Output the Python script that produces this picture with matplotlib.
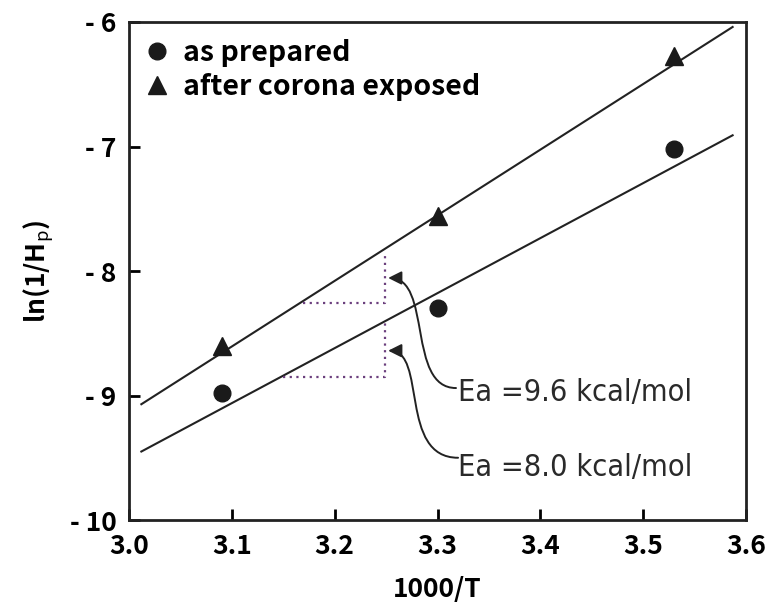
import numpy as np
import matplotlib
matplotlib.use('Agg')
import matplotlib.pyplot as plt
from matplotlib.path import Path
from matplotlib.patches import FancyArrowPatch
from matplotlib.lines import Line2D

# Data
temp_inv = [3.09, 3.30, 3.53]
prepared = [-8.98, -8.30, -7.02]
corona = [-8.60, -7.56, -6.27]

fit_x = [3.012, 3.587]
fit_corona = [-9.07, -6.04]
fit_prepared = [-9.45, -6.91]

# Dotted slope guides
step_corona_x = [3.169, 3.249, 3.249]
step_corona_y = [-8.26, -8.26, -7.85]
step_prep_x = [3.15, 3.249, 3.249]
step_prep_y = [-8.855, -8.855, -8.42]

x_ticks = [3.0, 3.1, 3.2, 3.3, 3.4, 3.5, 3.6]
y_ticks = [-10, -9, -8, -7, -6]

ea_labels = ['Ea =9.6 kcal/mol', 'Ea =8.0 kcal/mol']
ea_text_pos = [(3.32, -8.976), (3.32, -9.58)]
# cubic bezier control points for the curved arrows (tail at text, head at guide)
ea_arrows = [
    [(3.318, -8.94), (3.270, -8.94), (3.295, -8.056), (3.252, -8.056)],
    [(3.320, -9.50), (3.262, -9.50), (3.290, -8.64), (3.252, -8.64)],
]

bold_font = ['Noto Sans CJK JP', 'DejaVu Sans']
plt.rcParams['font.family'] = bold_font
plt.rcParams['mathtext.fontset'] = 'custom'
plt.rcParams['mathtext.rm'] = 'Noto Sans CJK JP'

fig = plt.figure(figsize=(7.8, 6.06), dpi=100)
ax = fig.add_axes([0.1654, 0.1419, 0.7910, 0.8218])

ax.plot(fit_x, fit_corona, color='#222222', lw=1.5)
ax.plot(fit_x, fit_prepared, color='#222222', lw=1.5)
ax.plot(temp_inv, prepared, 'o', color='#1a1a1a', ms=12, ls='none')
ax.plot(temp_inv, corona, '^', color='#1a1a1a', ms=13, ls='none')

guide_color = '#6b3f7d'
ax.plot(step_corona_x, step_corona_y, color=guide_color, lw=1.6, ls=(0, (1, 2)))
ax.plot(step_prep_x, step_prep_y, color=guide_color, lw=1.6, ls=(0, (1, 2)))

for label, pos, pts in zip(ea_labels, ea_text_pos, ea_arrows):
    ax.text(pos[0], pos[1], label, fontsize=22, va='center', ha='left',
            color='#2a2a2a', family=['DejaVu Sans'], fontweight='light',
            fontstretch='condensed')
    path = Path(pts, [Path.MOVETO, Path.CURVE4, Path.CURVE4, Path.CURVE4])
    arr = FancyArrowPatch(path=path, arrowstyle='-|>,head_length=8,head_width=4',
                          color='#222222', lw=1.4)
    ax.add_patch(arr)

ax.set_xlim(3.0, 3.6)
ax.set_ylim(-10, -6)
ax.set_xticks(x_ticks)
ax.set_xticklabels([f'{v:.1f}' for v in x_ticks])
ax.set_yticks(y_ticks)
ax.set_yticklabels([f'- {abs(v)}' for v in y_ticks])
ax.tick_params(direction='in', length=8, width=2, labelsize=19, pad=9)
for lab in ax.get_xticklabels() + ax.get_yticklabels():
    lab.set_fontweight('bold')
for sp in ax.spines.values():
    sp.set_linewidth(2)
    sp.set_color('#222222')

ax.set_xlabel('1000/T', fontsize=19, fontweight='bold', labelpad=12)
ax.set_ylabel(r'ln(1/H$_{\rm p}$)', fontsize=19, fontweight='bold', labelpad=10)

handles = [Line2D([], [], marker='o', ls='none', color='#1a1a1a', ms=12),
           Line2D([], [], marker='^', ls='none', color='#1a1a1a', ms=13)]
leg = ax.legend(handles, ['as prepared', 'after corona exposed'], loc='upper left',
                frameon=False, handlelength=0.8, handletextpad=0.5, labelspacing=0.2,
                borderaxespad=0.2, prop={'size': 20.5, 'weight': 'bold'})

fig.savefig('out.png', dpi=100, facecolor='white')
